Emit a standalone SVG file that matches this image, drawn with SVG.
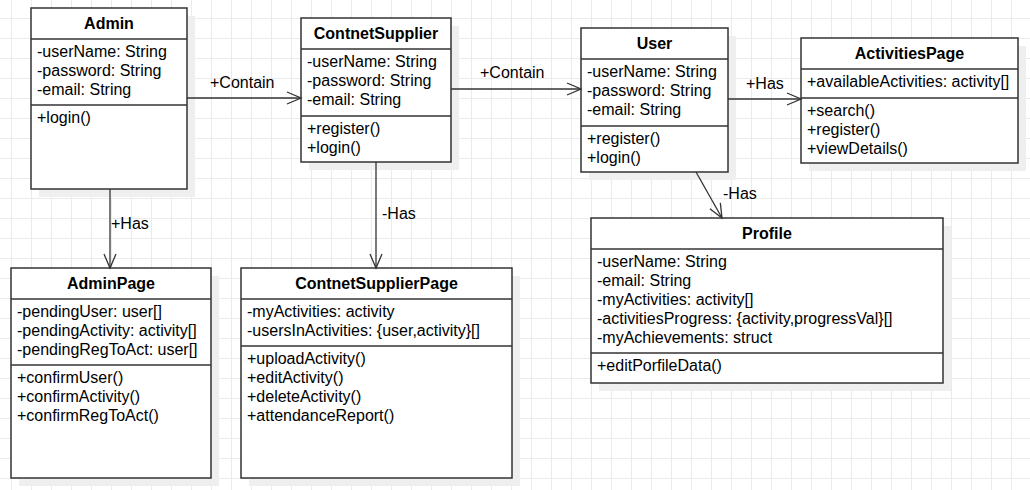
<svg xmlns="http://www.w3.org/2000/svg" width="1030" height="490" viewBox="0 0 1030 490">
<style>
.box{fill:#fff;stroke:#333;stroke-width:1.5}
.sh{fill:#efefef}
.sep{stroke:#333;stroke-width:1.5}
.t{font-family:"Liberation Sans",Arial,sans-serif;font-size:16px;fill:#000}
.h{font-family:"Liberation Sans",Arial,sans-serif;font-size:16px;font-weight:bold;fill:#000;text-anchor:middle}
.c{fill:none;stroke:#333;stroke-width:1.3}
</style>
<defs>
<pattern id="grid" patternUnits="userSpaceOnUse" x="11" y="18" width="20" height="20">
<path d="M0.5,0 V20 M0,0.5 H20" stroke="#ebebeb" stroke-width="1" fill="none"/>
</pattern>
<marker id="arr" markerUnits="userSpaceOnUse" markerWidth="16" markerHeight="14" refX="14" refY="6" orient="auto" overflow="visible">
<path d="M0,0 L14,6 L0,12" fill="none" stroke="#333" stroke-width="1.3"/>
</marker>
</defs>
<rect width="1030" height="490" fill="#fff"/>
<rect width="1030" height="490" fill="url(#grid)"/>

<g id="Admin">
<rect class="sh" x="39" y="16" width="156" height="181"/>
<rect class="box" x="31" y="8" width="156" height="181"/>
<line class="sep" x1="31" y1="39" x2="187" y2="39"/>
<line class="sep" x1="31" y1="105" x2="187" y2="105"/>
<text class="h" x="109" y="29">Admin</text>
<text class="t" x="37" y="57">-userName: String</text>
<text class="t" x="37" y="76">-password: String</text>
<text class="t" x="37" y="95">-email: String</text>
<text class="t" x="37" y="123">+login()</text>
</g>

<g id="ContnetSupplier">
<rect class="sh" x="309" y="26" width="150" height="144"/>
<rect class="box" x="301" y="18" width="150" height="144"/>
<line class="sep" x1="301" y1="49" x2="451" y2="49"/>
<line class="sep" x1="301" y1="116" x2="451" y2="116"/>
<text class="h" x="376" y="39">ContnetSupplier</text>
<text class="t" x="307" y="67">-userName: String</text>
<text class="t" x="307" y="86">-password: String</text>
<text class="t" x="307" y="105">-email: String</text>
<text class="t" x="307" y="134">+register()</text>
<text class="t" x="307" y="153">+login()</text>
</g>

<g id="User">
<rect class="sh" x="589" y="36" width="147" height="144"/>
<rect class="box" x="581" y="28" width="147" height="144"/>
<line class="sep" x1="581" y1="59" x2="728" y2="59"/>
<line class="sep" x1="581" y1="126" x2="728" y2="126"/>
<text class="h" x="654.5" y="49">User</text>
<text class="t" x="587" y="77">-userName: String</text>
<text class="t" x="587" y="96">-password: String</text>
<text class="t" x="587" y="115">-email: String</text>
<text class="t" x="587" y="144">+register()</text>
<text class="t" x="587" y="163">+login()</text>
</g>

<g id="ActivitiesPage">
<rect class="sh" x="809" y="46" width="217" height="125"/>
<rect class="box" x="801" y="38" width="217" height="125"/>
<line class="sep" x1="801" y1="69" x2="1018" y2="69"/>
<line class="sep" x1="801" y1="98" x2="1018" y2="98"/>
<text class="h" x="909.5" y="59">ActivitiesPage</text>
<text class="t" x="807" y="87">+availableActivities: activity[]</text>
<text class="t" x="807" y="116">+search()</text>
<text class="t" x="807" y="135">+register()</text>
<text class="t" x="807" y="154">+viewDetails()</text>
</g>

<g id="AdminPage">
<rect class="sh" x="19" y="276" width="200" height="210"/>
<rect class="box" x="11" y="268" width="200" height="210"/>
<line class="sep" x1="11" y1="299" x2="211" y2="299"/>
<line class="sep" x1="11" y1="365" x2="211" y2="365"/>
<text class="h" x="111" y="289">AdminPage</text>
<text class="t" x="17" y="317">-pendingUser: user[]</text>
<text class="t" x="17" y="336">-pendingActivity: activity[]</text>
<text class="t" x="17" y="355">-pendingRegToAct: user[]</text>
<text class="t" x="17" y="383">+confirmUser()</text>
<text class="t" x="17" y="402">+confirmActivity()</text>
<text class="t" x="17" y="421">+confirmRegToAct()</text>
</g>

<g id="ContnetSupplierPage">
<rect class="sh" x="249" y="276" width="271" height="210"/>
<rect class="box" x="241" y="268" width="271" height="210"/>
<line class="sep" x1="241" y1="299" x2="512" y2="299"/>
<line class="sep" x1="241" y1="346" x2="512" y2="346"/>
<text class="h" x="376.5" y="289">ContnetSupplierPage</text>
<text class="t" x="247" y="317">-myActivities: activity</text>
<text class="t" x="247" y="336">-usersInActivities: {user,activity}[]</text>
<text class="t" x="247" y="364">+uploadActivity()</text>
<text class="t" x="247" y="383">+editActivity()</text>
<text class="t" x="247" y="402">+deleteActivity()</text>
<text class="t" x="247" y="421">+attendanceReport()</text>
</g>

<g id="Profile">
<rect class="sh" x="599" y="226" width="352" height="165"/>
<rect class="box" x="591" y="218" width="352" height="165"/>
<line class="sep" x1="591" y1="249" x2="943" y2="249"/>
<line class="sep" x1="591" y1="353" x2="943" y2="353"/>
<text class="h" x="767" y="239">Profile</text>
<text class="t" x="597" y="267">-userName: String</text>
<text class="t" x="597" y="286">-email: String</text>
<text class="t" x="597" y="305">-myActivities: activity[]</text>
<text class="t" x="597" y="324">-activitiesProgress: {activity,progressVal}[]</text>
<text class="t" x="597" y="343">-myAchievements: struct</text>
<text class="t" x="597" y="371">+editPorfileData()</text>
</g>

<g id="connectors">
<line class="c" x1="187" y1="98" x2="301" y2="98" marker-end="url(#arr)"/>
<text class="t" x="210" y="88">+Contain</text>
<line class="c" x1="451" y1="89" x2="581" y2="89" marker-end="url(#arr)"/>
<text class="t" x="480" y="78">+Contain</text>
<line class="c" x1="728" y1="99" x2="801" y2="99" marker-end="url(#arr)"/>
<text class="t" x="746" y="89">+Has</text>
<line class="c" x1="696" y1="172" x2="722" y2="218" marker-end="url(#arr)"/>
<text class="t" x="723" y="199">-Has</text>
<line class="c" x1="110" y1="189" x2="110" y2="268" marker-end="url(#arr)"/>
<text class="t" x="111" y="229">+Has</text>
<line class="c" x1="376" y1="162" x2="376" y2="268" marker-end="url(#arr)"/>
<text class="t" x="382" y="219">-Has</text>
</g>
</svg>
